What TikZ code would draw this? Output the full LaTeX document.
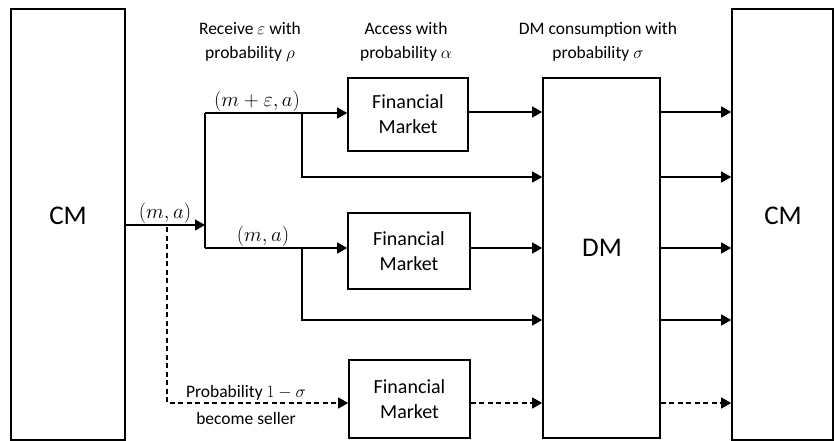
\documentclass[tikz,border=0pt]{standalone}
\usepackage{fontspec}
\setmainfont{Carlito}
\usetikzlibrary{arrows.meta}
\begin{document}
\begin{tikzpicture}[x=1pt,y=-1pt,
  box/.style={draw,line width=1.6pt,rectangle,inner sep=0pt},
  conn/.style={line width=1.2pt},
  arr/.style={conn,-{Triangle[length=10pt,width=11pt]}},
  dsh/.style={dash pattern=on 5pt off 3.5pt},
  lbl/.style={font=\fontsize{17.5}{24}\selectfont,align=center,inner sep=0pt},
  mlbl/.style={font=\fontsize{20}{22}\selectfont,inner sep=0pt},
  big/.style={font=\fontsize{27}{30}\selectfont,inner sep=0pt},
  fmtext/.style={font=\fontsize{20}{25}\selectfont,align=center}]
\useasboundingbox (0,0) rectangle (835,441);
% boxes
\node[box,minimum width=114pt,minimum height=431pt] (cml) at (68,224.5) {};
\node[big] (cmlt) at (68,216) {CM};
\node[box,minimum width=101pt,minimum height=431pt] (cmr) at (782.5,224.5) {};
\node[big] (cmrt) at (783,216) {CM};
\node[box,minimum width=117pt,minimum height=360pt] (dm) at (601.5,258) {};
\node[big] (dmt) at (602,248) {DM};
\node[box,fmtext,minimum width=120pt,minimum height=73pt] (fm1) at (408,114.5) {Financial\\Market};
\node[box,fmtext,minimum width=122pt,minimum height=76pt] (fm2) at (409,251) {Financial\\Market};
\node[box,fmtext,minimum width=121pt,minimum height=78pt] (fm3) at (409.5,399) {Financial\\Market};
% helper coordinates
\coordinate (j) at (205,225);
\coordinate (jt) at (205,113);
\coordinate (jb) at (205,248);
\coordinate (bt) at (302,113);
\coordinate (bb) at (302,248);
\coordinate (ds) at (167,227);
\coordinate (y1) at (0,112);
\coordinate (y2) at (0,177);
\coordinate (y3) at (0,248);
\coordinate (y4) at (0,320);
\coordinate (y5) at (0,403);
% connectors
\draw[arr] (cml.east |- j) -- (j);
\draw[conn] (jt) -- (jb);
\draw[arr] (jt) -- (jt -| fm1.west);
\draw[arr] (bt) |- (dm.west |- y2);
\draw[arr] (fm1.east |- y1) -- (dm.west |- y1);
\draw[arr] (jb) -- (jb -| fm2.west);
\draw[arr] (bb) |- (dm.west |- y4);
\draw[arr] (fm2.east |- y3) -- (dm.west |- y3);
\draw[arr,dsh] (ds) |- (fm3.west |- y5);
\draw[arr,dsh] (fm3.east |- y5) -- (dm.west |- y5);
\draw[arr] (dm.east |- y1) -- (cmr.west |- y1);
\draw[arr] (dm.east |- y2) -- (cmr.west |- y2);
\draw[arr] (dm.east |- y3) -- (cmr.west |- y3);
\draw[arr] (dm.east |- y4) -- (cmr.west |- y4);
\draw[arr,dsh] (dm.east |- y5) -- (cmr.west |- y5);
% labels
\node[lbl] (l1) at (250,42) {Receive $\varepsilon$ with\\probability $\rho$};
\node[lbl] (l2) at (406,42) {Access with\\probability $\alpha$};
\node[lbl] (l3) at (598,42) {DM consumption with\\probability $\sigma$};
\node[lbl,anchor=base] (lp1) at (246,397) {Probability $1-\sigma$};
\node[lbl,anchor=base] (lp2) at (246,424) {become seller};
\node[mlbl] (ma0) at (165,213) {$(m,a)$};
\node[mlbl] (ma1) at (257,101) {$(m+\varepsilon,a)$};
\node[mlbl] (ma2) at (263,236) {$(m,a)$};
\end{tikzpicture}
\end{document}
